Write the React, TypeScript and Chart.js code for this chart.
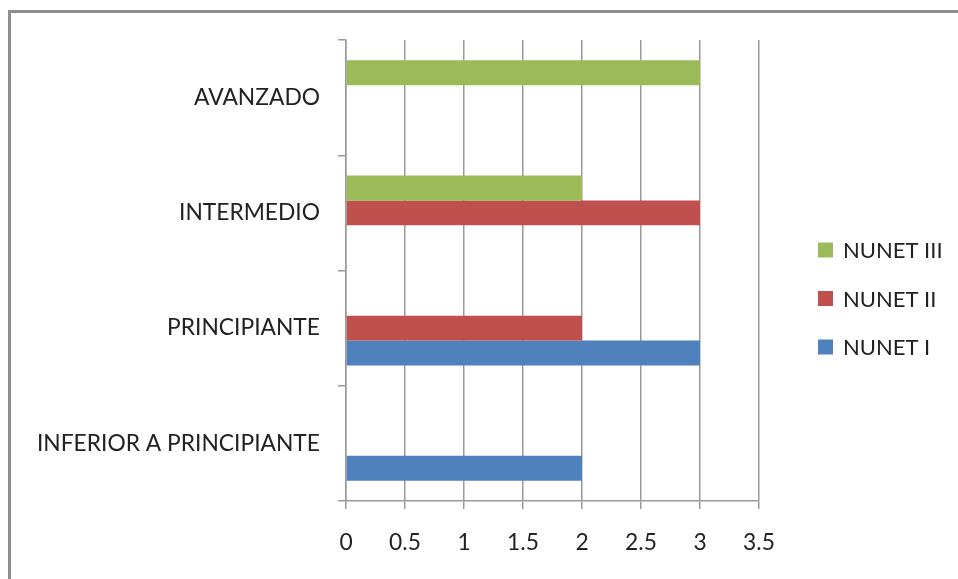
import React, { useEffect, useRef } from "react";
import { Chart, registerables } from "chart.js";

Chart.register(...registerables);

// ---- data ----
const categories = ["AVANZADO", "INTERMEDIO", "PRINCIPIANTE", "INFERIOR A PRINCIPIANTE"];
const nunetIII = [3, 2, 0, 0];
const nunetII = [0, 3, 2, 0];
const nunetI = [0, 0, 3, 2];
const seriesNames = ["NUNET III", "NUNET II", "NUNET I"];
const seriesColors = ["#9BBB59", "#C0504D", "#4F81BD"];
const xMin = 0;
const xMax = 3.5;
const xStep = 0.5;

const FONT = "Lato, 'Liberation Sans', Arial, sans-serif";
const FONT_SIZE = 22.8;
const LEGEND_FONT_SIZE = 22;
const GRID = "#9a9a9a";
const TEXT = "#222222";

const legendPlugin = {
  id: "sideLegend",
  afterDraw(chart: any) {
    const ctx = chart.ctx;
    const x = 818;
    const y0 = 250;
    const gap = 48.5;
    const box = 15;
    ctx.save();
    ctx.font = `${LEGEND_FONT_SIZE}px ${FONT}`;
    ctx.textBaseline = "middle";
    ctx.textAlign = "left";
    chart.data.datasets.forEach((ds: any, i: number) => {
      const cy = y0 + i * gap;
      ctx.fillStyle = ds.backgroundColor;
      ctx.fillRect(x, cy - box / 2, box, box);
      ctx.fillStyle = TEXT;
      ctx.fillText(ds.label, x + 25, cy + 1);
    });
    ctx.restore();
  },
};

export default function App() {
  const ref = useRef<HTMLCanvasElement | null>(null);

  useEffect(() => {
    if (!ref.current) return;
    const chart = new Chart(ref.current, {
      type: "bar",
      data: {
        labels: categories,
        datasets: [
          { label: seriesNames[0], data: nunetIII, backgroundColor: seriesColors[0] },
          { label: seriesNames[1], data: nunetII, backgroundColor: seriesColors[1] },
          { label: seriesNames[2], data: nunetI, backgroundColor: seriesColors[2] },
        ],
      },
      options: {
        indexAxis: "y",
        responsive: false,
        animation: false,
        events: [],
        datasets: {
          bar: { categoryPercentage: 0.65, barPercentage: 1, borderWidth: 0 },
        },
        layout: { padding: { top: 40, right: 199, left: 0, bottom: 0 } },
        plugins: {
          legend: { display: false },
          tooltip: { enabled: false },
          title: { display: false },
        },
        scales: {
          x: {
            type: "linear",
            position: "bottom",
            min: xMin,
            max: xMax,
            ticks: {
              stepSize: xStep,
              font: { family: FONT, size: FONT_SIZE },
              color: TEXT,
              padding: 20,
              maxRotation: 0,
              callback: (v: any) => String(Number(v)),
            },
            grid: { color: GRID, lineWidth: 1.5, tickLength: 8, drawTicks: true },
            border: { color: GRID, width: 1.5 },
            afterFit: (s: any) => {
              s.height = 78;
            },
          },
          y: {
            type: "category",
            offset: true,
            ticks: { font: { family: FONT, size: FONT_SIZE }, color: TEXT, padding: 18 },
            grid: { offset: true, drawOnChartArea: false, color: GRID, lineWidth: 1.5, tickLength: 8 },
            border: { color: GRID, width: 1.5 },
            afterFit: (s: any) => {
              s.width = 346;
            },
          },
        },
      },
      plugins: [legendPlugin],
    } as any);
    return () => chart.destroy();
  }, []);

  return (
    <div style={{ position: "absolute", left: 0, top: 0, width: 958, height: 579, background: "#fff" }}>
      <div
        style={{
          position: "absolute",
          left: 8,
          top: 10,
          width: 950,
          height: 569,
          borderLeft: "3px solid #8e8e8e",
          borderTop: "3px solid #8e8e8e",
          boxSizing: "border-box",
        }}
      />
      <canvas ref={ref} width={958} height={579} style={{ position: "absolute", left: 0, top: 0 }} />
    </div>
  );
}
